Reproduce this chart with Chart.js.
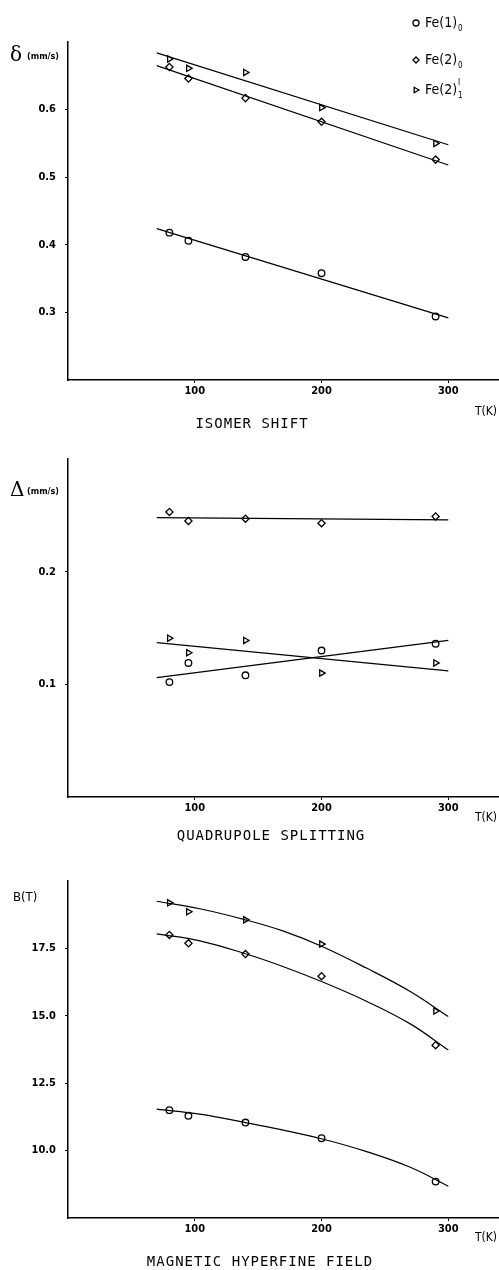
<!DOCTYPE html>
<html>
<head>
<meta charset="utf-8">
<script src="https://cdn.jsdelivr.net/npm/chart.js@4"></script>
<style>
  body { margin: 0; background: #fff; }
  .panel { position: absolute; left: 0; width: 499px; }
</style>
</head>
<body>
<div class="panel" style="top:0"><canvas id="isoChart" width="499" height="430"></canvas></div>
<div class="panel" style="top:430px"><canvas id="qsChart" width="499" height="415"></canvas></div>
<div class="panel" style="top:845px"><canvas id="hfChart" width="499" height="425"></canvas></div>
<script>
// measured temperatures (K)
const temps = [80, 95, 140, 200, 290];
const xTicks = [100, 200, 300];

// isomer shift (mm/s)
const isoFe1 = [0.418, 0.406, 0.382, 0.358, 0.294];
const isoFe2 = [0.663, 0.646, 0.617, 0.582, 0.526];
const isoFe2i = [0.675, 0.661, 0.655, 0.603, 0.550];
const isoTicks = [0.3, 0.4, 0.5, 0.6];

// quadrupole splitting (mm/s)
const qsFe1 = [0.102, 0.119, 0.108, 0.130, 0.136];
const qsFe2 = [0.253, 0.245, 0.247, 0.243, 0.249];
const qsFe2i = [0.141, 0.128, 0.139, 0.110, 0.119];
const qsTicks = [0.1, 0.2];

// hyperfine field (T)
const hfFe1 = [11.50, 11.29, 11.04, 10.46, 8.85];
const hfFe2 = [18.00, 17.69, 17.29, 16.47, 13.91];
const hfFe2i = [19.19, 18.86, 18.56, 17.66, 15.18];
const hfTicks = [10, 12.5, 15, 17.5];

// fitted lines
const fitT = [70, 300];
const isoFitFe1 = [0.424, 0.292];
const isoFitFe2 = [0.665, 0.518];
const isoFitFe2i = [0.684, 0.548];
const qsFitFe1 = [0.106, 0.139];
const qsFitFe2 = [0.248, 0.246];
const qsFitFe2i = [0.137, 0.112];
const curveT = [70, 104, 140, 170, 200, 235, 270, 300];
const hfFitFe1 = [11.54, 11.35, 11.04, 10.76, 10.44, 9.97, 9.38, 8.68];
const hfFitFe2 = [18.04, 17.78, 17.30, 16.82, 16.27, 15.55, 14.70, 13.73];
const hfFitFe2i = [19.25, 18.97, 18.56, 18.14, 17.58, 16.78, 15.90, 14.97];

const legendNames = ["Fe(1)", "Fe(2)", "Fe(2)"];
const legendSub = ["0", "0", "1"];
const legendSup = ["", "", "I"];

const tickFont = { family: '"Liberation Sans Narrow", "DejaVu Sans Condensed", sans-serif', size: 11, weight: "bold" };

function drawMarker(ctx, style, x, y, r) {
  ctx.beginPath();
  if (style === "circle") {
    ctx.arc(x, y, r, 0, Math.PI * 2);
  } else if (style === "rectRot") {
    ctx.moveTo(x, y - r); ctx.lineTo(x + r, y); ctx.lineTo(x, y + r); ctx.lineTo(x - r, y); ctx.closePath();
  } else {
    ctx.moveTo(x + r, y); ctx.lineTo(x - r * 0.6, y - r * 0.9); ctx.lineTo(x - r * 0.6, y + r * 0.9); ctx.closePath();
  }
  ctx.stroke();
}

const panelText = {
  id: "panelText",
  afterDraw(chart, args, o) {
    const ctx = chart.ctx;
    ctx.save();
    ctx.fillStyle = "#000";
    ctx.strokeStyle = "#000";
    ctx.textBaseline = "middle";
    // y-axis label
    if (o.symbol) {
      ctx.font = '20px "DejaVu Serif", serif';
      ctx.textAlign = "left";
      ctx.fillText(o.symbol, 10, o.labelY);
      ctx.font = 'bold 9px "DejaVu Sans Condensed", sans-serif';
      ctx.fillText("(mm/s)", 27, o.labelY + 1);
    } else {
      ctx.font = '13px "DejaVu Sans Condensed", sans-serif';
      ctx.textAlign = "left";
      ctx.fillText(o.yLabel, 13, o.labelY);
    }
    // x-axis label
    ctx.font = '12px "DejaVu Sans Condensed", sans-serif';
    ctx.textAlign = "center";
    ctx.fillText("T(K)", 486, o.tkY);
    // panel title
    ctx.font = '14px "DejaVu Sans Mono", monospace';
    ctx.letterSpacing = "1px";
    ctx.fillText(o.title, o.titleX, o.titleY);
    ctx.letterSpacing = "0px";
    // legend
    if (o.legend) {
      const styles = ["circle", "rectRot", "triangle"];
      const rows = [23, 60, 90];
      ctx.lineWidth = 1.3;
      ctx.textAlign = "left";
      styles.forEach((s, i) => {
        drawMarker(ctx, s, 416, rows[i], 3);
        ctx.font = '14px "DejaVu Sans Condensed", sans-serif';
        ctx.fillText(legendNames[i], 425, rows[i]);
        const w = ctx.measureText(legendNames[i]).width;
        ctx.font = '8px "DejaVu Sans Condensed", sans-serif';
        ctx.fillText(legendSub[i], 426 + w, rows[i] + 6);
        if (legendSup[i]) ctx.fillText(legendSup[i], 426 + w, rows[i] - 7);
      });
    }
    ctx.restore();
  }
};

function points(ys, style) {
  return {
    data: temps.map((t, i) => ({ x: t, y: ys[i] })),
    showLine: false,
    pointStyle: style,
    rotation: style === "triangle" ? 90 : 0,
    pointRadius: style === "circle" ? 3.3 : 3.6,
    pointBorderWidth: 1.3,
    pointBorderColor: "#000",
    pointBackgroundColor: "rgba(0,0,0,0)",
  };
}

function fit(xs, ys, curved) {
  return {
    data: xs.map((x, i) => ({ x: x, y: ys[i] })),
    showLine: true,
    pointRadius: 0,
    borderColor: "#000",
    borderWidth: 1.2,
    tension: curved ? 0.4 : 0,
  };
}

function options(yMin, yMax, yTicks, text) {
  return {
    responsive: false,
    animation: false,
    layout: { autoPadding: false, padding: { top: text.padTop, right: 0, left: 0, bottom: 0 } },
    scales: {
      x: {
        type: "linear",
        min: 0,
        max: 340,
        afterBuildTicks: (s) => { s.ticks = xTicks.map((v) => ({ value: v })); },
        afterFit: (s) => { s.height = text.xHeight; s.paddingLeft = 0; s.paddingRight = 0; },
        grid: { drawOnChartArea: false, tickLength: 3, color: "#000" },
        border: { color: "#000", width: 1.5 },
        ticks: { color: "#000", padding: 2, font: tickFont, maxRotation: 0 },
      },
      y: {
        type: "linear",
        min: yMin,
        max: yMax,
        afterBuildTicks: (s) => { s.ticks = yTicks.map((v) => ({ value: v })); },
        afterFit: (s) => { s.width = 68; s.paddingTop = 0; s.paddingBottom = 0; },
        grid: { drawOnChartArea: false, tickLength: 3, color: "#000" },
        border: { color: "#000", width: 1.5 },
        ticks: { color: "#000", padding: 9, font: tickFont, callback: (v) => v.toFixed(1) },
      },
    },
    plugins: { legend: { display: false }, tooltip: { enabled: false }, panelText: text },
  };
}

new Chart(document.getElementById("isoChart"), {
  type: "scatter",
  data: {
    datasets: [
      points(isoFe1, "circle"), points(isoFe2, "rectRot"), points(isoFe2i, "triangle"),
      fit(fitT, isoFitFe1), fit(fitT, isoFitFe2), fit(fitT, isoFitFe2i),
    ],
  },
  options: options(0.2, 0.7, isoTicks, {
    padTop: 42, xHeight: 50, symbol: "δ", labelY: 56, tkY: 412,
    title: "ISOMER SHIFT", titleX: 252, titleY: 424, legend: true,
  }),
  plugins: [panelText],
});

new Chart(document.getElementById("qsChart"), {
  type: "scatter",
  data: {
    datasets: [
      points(qsFe1, "circle"), points(qsFe2, "rectRot"), points(qsFe2i, "triangle"),
      fit(fitT, qsFitFe1), fit(fitT, qsFitFe2), fit(fitT, qsFitFe2i),
    ],
  },
  options: options(0, 0.3, qsTicks, {
    padTop: 29, xHeight: 48, symbol: "Δ", labelY: 61, tkY: 388,
    title: "QUADRUPOLE SPLITTING", titleX: 271, titleY: 406, legend: false,
  }),
  plugins: [panelText],
});

new Chart(document.getElementById("hfChart"), {
  type: "scatter",
  data: {
    datasets: [
      points(hfFe1, "circle"), points(hfFe2, "rectRot"), points(hfFe2i, "triangle"),
      fit(curveT, hfFitFe1, true), fit(curveT, hfFitFe2, true), fit(curveT, hfFitFe2i, true),
    ],
  },
  options: options(7.5, 20, hfTicks, {
    padTop: 36, xHeight: 52, yLabel: "B(T)", labelY: 53, tkY: 393,
    title: "MAGNETIC HYPERFINE FIELD", titleX: 260, titleY: 417, legend: false,
  }),
  plugins: [panelText],
});
</script>
</body>
</html>
